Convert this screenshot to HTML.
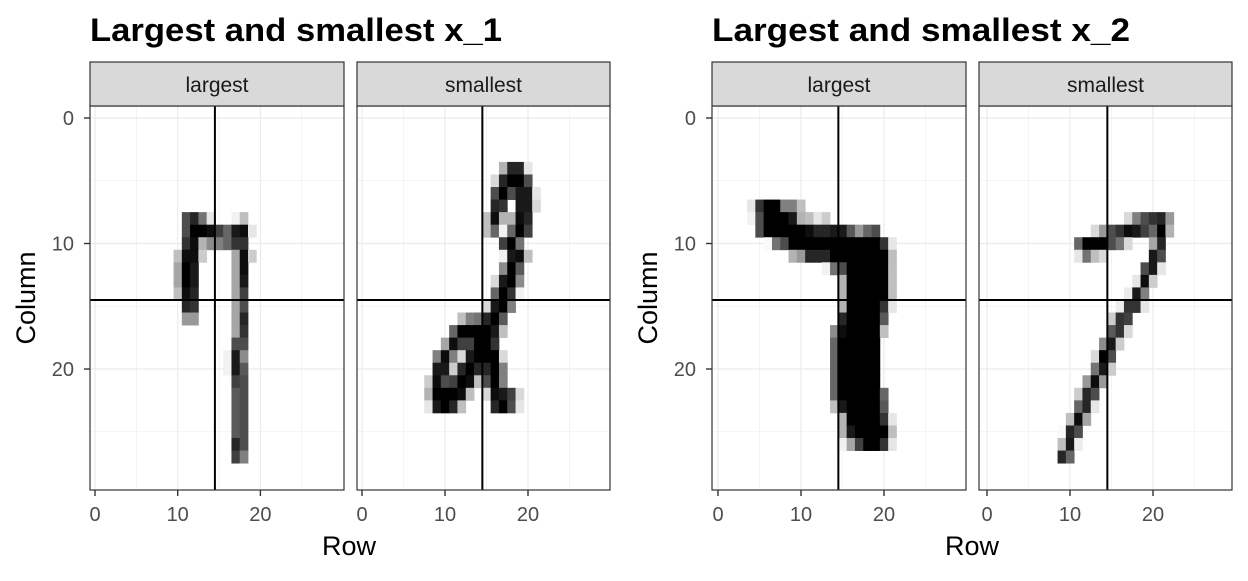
<!DOCTYPE html>
<html><head><meta charset="utf-8">
<style>
body{margin:0;background:#fff;}
svg text{font-family:"Liberation Sans",Arial,sans-serif;}
</style></head>
<body>
<svg id="chart" width="1248" height="576" viewBox="0 0 1248 576" xmlns="http://www.w3.org/2000/svg">
<text x="90" y="41" font-size="32" font-weight="bold" fill="#000" textLength="412" lengthAdjust="spacingAndGlyphs">Largest and smallest x_1</text>
<text x="712" y="41" font-size="32" font-weight="bold" fill="#000" textLength="418" lengthAdjust="spacingAndGlyphs">Largest and smallest x_2</text>
<text x="349" y="555" font-size="27" text-anchor="middle" fill="#000">Row</text>
<text x="972" y="555" font-size="27" text-anchor="middle" fill="#000">Row</text>
<text transform="translate(35,298) rotate(-90)" font-size="27" text-anchor="middle" fill="#000">Column</text>
<text transform="translate(657,298) rotate(-90)" font-size="27" text-anchor="middle" fill="#000">Column</text>
</svg>
<script>
const axisTicks = [0, 10, 20];
const tickLabels = ["0", "10", "20"];
const minorTicks = [5, 15, 25];
const crossLine = 14.5;
const stripLabels = ["largest", "smallest", "largest", "smallest"];
// [row(y), col(x), intensity]
const largestX1 = [
[8,11,.7],[8,12,.85],[8,13,.55],[8,14,.1],[8,17,.05],[8,18,.25],
[9,11,.7],[9,12,1],[9,13,1],[9,14,.95],[9,15,.75],[9,16,.6],[9,17,.9],[9,18,.95],[9,19,.1],
[10,11,.8],[10,12,.95],[10,13,.3],[10,14,.45],[10,15,.5],[10,16,.6],[10,17,.8],[10,18,.8],
[11,10,.25],[11,11,.95],[11,12,.95],[11,13,.2],[11,17,.35],[11,18,.95],[11,19,.2],
[12,10,.35],[12,11,1],[12,12,.9],[12,17,.35],[12,18,.95],
[13,10,.35],[13,11,1],[13,12,.9],[13,17,.35],[13,18,.9],
[14,10,.25],[14,11,.95],[14,12,.85],[14,17,.35],[14,18,.75],
[15,11,.85],[15,12,.8],[15,17,.35],[15,18,.7],
[16,11,.4],[16,12,.4],[16,17,.35],[16,18,.85],
[17,17,.35],[17,18,.8],
[18,17,.7],[18,18,.7],
[19,16,.05],[19,17,.9],[19,18,.45],
[20,16,.05],[20,17,.9],[20,18,.65],
[21,17,.75],[21,18,.7],
[22,17,.65],[22,18,.7],[23,17,.65],[23,18,.7],[24,17,.65],[24,18,.7],[25,17,.65],[25,18,.7],
[26,17,.85],[26,18,.7],
[27,17,.75],[27,18,.5]
];
const smallestX1 = [
[4,17,.3],[4,18,.85],[4,19,.85],[4,20,.1],
[5,16,.15],[5,17,.85],[5,18,1],[5,19,1],[5,20,.7],
[6,16,.7],[6,17,1],[6,18,.7],[6,19,.9],[6,20,.9],[6,21,.1],
[7,16,.85],[7,17,.8],[7,19,.9],[7,20,.9],[7,21,.15],
[8,15,.25],[8,16,.95],[8,17,.3],[8,18,.3],[8,19,.95],[8,20,.85],
[9,15,.25],[9,16,.6],[9,17,.05],[9,18,.6],[9,19,1],[9,20,.75],
[10,17,.75],[10,18,1],[10,19,.55],
[11,17,.05],[11,18,.9],[11,19,.95],[11,20,.25],
[12,17,.45],[12,18,1],[12,19,.65],
[13,16,.15],[13,17,.9],[13,18,1],[13,19,.45],
[14,16,.6],[14,17,1],[14,18,.8],[14,19,.05],
[15,15,.15],[15,16,.9],[15,17,1],[15,18,.5],
[16,12,.25],[16,13,.5],[16,14,.55],[16,15,.85],[16,16,1],[16,17,.65],
[17,11,.6],[17,12,1],[17,13,1],[17,14,1],[17,15,1],[17,16,.9],[17,17,.25],
[18,10,.35],[18,11,.95],[18,12,.75],[18,13,.75],[18,14,1],[18,15,1],[18,16,.8],
[19,9,.5],[19,10,.95],[19,11,.5],[19,12,.15],[19,13,.9],[19,14,1],[19,15,1],[19,16,1],[19,17,.15],
[20,9,.9],[20,10,.9],[20,11,.2],[20,12,.85],[20,13,1],[20,14,.85],[20,15,.85],[20,16,1],[20,17,.5],
[21,8,.2],[21,9,.95],[21,10,.7],[21,11,.75],[21,12,1],[21,13,.95],[21,14,.25],[21,15,.7],[21,16,1],[21,17,.5],
[22,8,.3],[22,9,1],[22,10,1],[22,11,1],[22,12,.95],[22,13,.25],[22,15,.15],[22,16,.95],[22,17,.9],[22,18,.75],[22,19,.15],
[23,8,.1],[23,9,.9],[23,10,1],[23,11,.85],[23,12,.25],[23,16,.85],[23,17,1],[23,18,.7],[23,19,.1]
];
const largestX2 = [
[7,4,.1],[7,5,.8],[7,6,1],[7,7,1],[7,8,.5],[7,9,.5],[7,10,.25],
[8,4,.05],[8,5,.7],[8,6,1],[8,7,1],[8,8,1],[8,9,.9],[8,10,.3],[8,11,.25],[8,12,.1],[8,13,.2],
[9,5,.7],[9,6,1],[9,7,1],[9,8,1],[9,9,1],[9,10,1],[9,11,.95],[9,12,.85],[9,13,.85],[9,14,.9],[9,15,.9],[9,16,.65],[9,17,.4],[9,18,.6],[9,19,.7],
[10,6,.02],[10,7,.55],[10,8,.7],[10,9,1],[10,10,1],[10,11,1],[10,12,1],[10,13,1],[10,14,1],[10,15,1],[10,16,1],[10,17,1],[10,18,1],[10,19,1],[10,20,.8],[10,21,.1],
[11,9,.3],[11,10,.4],[11,11,.85],[11,12,.85],[11,13,.85],[11,14,1],[11,15,1],[11,16,1],[11,17,1],[11,18,1],[11,19,1],[11,20,1],[11,21,.25],
[12,13,.05],[12,14,.55],[12,15,.7],[12,16,1],[12,17,1],[12,18,1],[12,19,1],[12,20,1],[12,21,.25],
[13,15,.3],[13,16,1],[13,17,1],[13,18,1],[13,19,1],[13,20,1],[13,21,.25],
[14,15,.3],[14,16,1],[14,17,1],[14,18,1],[14,19,1],[14,20,1],[14,21,.25],
[15,15,.3],[15,16,1],[15,17,1],[15,18,1],[15,19,1],[15,20,.8],[15,21,.1],
[16,15,.85],[16,16,1],[16,17,1],[16,18,1],[16,19,1],[16,20,.65],
[17,14,.45],[17,15,.95],[17,16,1],[17,17,1],[17,18,1],[17,19,1],[17,20,.25],
[18,14,.6],[18,15,1],[18,16,1],[18,17,1],[18,18,1],[18,19,1],
[19,14,.6],[19,15,1],[19,16,1],[19,17,1],[19,18,1],[19,19,1],
[20,14,.6],[20,15,1],[20,16,1],[20,17,1],[20,18,1],[20,19,1],
[21,14,.6],[21,15,1],[21,16,1],[21,17,1],[21,18,1],[21,19,1],
[22,14,.6],[22,15,1],[22,16,1],[22,17,1],[22,18,1],[22,19,1],[22,20,.6],
[23,14,.25],[23,15,.9],[23,16,1],[23,17,1],[23,18,1],[23,19,1],[23,20,.65],
[24,15,.3],[24,16,1],[24,17,1],[24,18,1],[24,19,1],[24,20,.8],[24,21,.1],
[25,15,.3],[25,16,.9],[25,17,1],[25,18,1],[25,19,1],[25,20,1],[25,21,.25],
[26,15,.05],[26,16,.35],[26,17,.75],[26,18,1],[26,19,1],[26,20,.8],[26,21,.1]
];
const smallestX2 = [
[8,17,.15],[8,18,.5],[8,19,.7],[8,20,.8],[8,21,.85],[8,22,.4],
[9,13,.15],[9,14,.4],[9,15,.7],[9,16,.8],[9,17,.95],[9,18,.9],[9,19,.75],[9,20,.6],[9,21,1],[9,22,.3],
[10,11,.6],[10,12,1],[10,13,1],[10,14,1],[10,15,.7],[10,16,.55],[10,17,.15],[10,20,.35],[10,21,.85],
[11,11,.1],[11,12,.55],[11,13,.25],[11,14,.15],[11,20,.9],[11,21,.7],
[12,19,.7],[12,20,.9],[12,21,.1],
[13,18,.1],[13,19,.95],[13,20,.2],
[14,17,.08],[14,18,.9],[14,19,.5],
[15,16,.07],[15,17,.8],[15,18,.8],[15,19,.1],
[16,15,.2],[16,16,.8],[16,17,.75],
[17,15,.65],[17,16,.8],[17,17,.15],
[18,14,.45],[18,15,.9],[18,16,.2],
[19,13,.15],[19,14,1],[19,15,.7],
[20,13,.55],[20,14,.9],[20,15,.2],
[21,12,.4],[21,13,.95],[21,14,.4],
[22,11,.2],[22,12,.85],[22,13,.7],
[23,11,.6],[23,12,.85],[23,13,.1],
[24,10,.25],[24,11,.95],[24,12,.35],
[25,9,.02],[25,10,.85],[25,11,.7],
[26,9,.25],[26,10,.9],[26,11,.07],
[27,9,.85],[27,10,.6]
];
const panelData = [largestX1, smallestX1, largestX2, smallestX2];
const panelNames = ["largest-x1", "smallest-x1", "largest-x2", "smallest-x2"];

const NS = "http://www.w3.org/2000/svg";
const svg = document.getElementById("chart");
const panels = [
  {left:90, right:344, x0:95, ppu:8.27},
  {left:357, right:610, x0:362, ppu:8.3},
  {left:712, right:966, x0:718, ppu:8.3},
  {left:979, right:1232, x0:987, ppu:8.3}
];
const TOP = 106, BOTTOM = 490, Y0 = 118, YPU = 12.55;
function mk(tag, attrs, parent){
  const e = document.createElementNS(NS, tag);
  for (const k in attrs) e.setAttribute(k, attrs[k]);
  (parent || svg).appendChild(e);
  return e;
}
panels.forEach((p, i) => {
  const xs = v => p.x0 + p.ppu * v;
  const ys = v => Y0 + YPU * v;
  const g = mk("g", {});
  
  
  const bg = mk("rect", {x:p.left, y:TOP, width:p.right-p.left, height:BOTTOM-TOP, fill:"#fff"}, g);
  
  
  minorTicks.concat(axisTicks).forEach((t, j) => {
    const w = j < minorTicks.length ? 0.6 : 1.2;
    const vl = mk("line", {x1:xs(t), x2:xs(t), y1:TOP, y2:BOTTOM, stroke:"#ebebeb", "stroke-width":w}, g);
    
    
    const hl = mk("line", {x1:p.left, x2:p.right, y1:ys(t), y2:ys(t), stroke:"#ebebeb", "stroke-width":w}, g);
    
    
  });
  panelData[i].forEach(d => {
    const gv = Math.round(255 * (1 - d[2]));
    const r = mk("rect", {x:xs(d[1]-0.5), y:ys(d[0]-0.5), width:p.ppu+0.4, height:YPU+0.4, fill:`rgb(${gv},${gv},${gv})`}, g);
    
    
  });
  const cv = mk("line", {x1:xs(crossLine), x2:xs(crossLine), y1:TOP, y2:BOTTOM, stroke:"#000", "stroke-width":2}, g);
  
  
  const ch = mk("line", {x1:p.left, x2:p.right, y1:ys(crossLine), y2:ys(crossLine), stroke:"#000", "stroke-width":2}, g);
  
  
  const border = mk("rect", {x:p.left, y:TOP, width:p.right-p.left, height:BOTTOM-TOP, fill:"none", stroke:"#333", "stroke-width":1.2}, g);
  
  
  const strip = mk("rect", {x:p.left, y:62, width:p.right-p.left, height:TOP-62, fill:"#d9d9d9", stroke:"#333", "stroke-width":1.2}, g);
  
  
  const st = mk("text", {x:(p.left+p.right)/2, y:92, "font-size":21, "text-anchor":"middle", fill:"#1a1a1a"}, g);
  st.textContent = stripLabels[i];
  
  
  axisTicks.forEach((t, j) => {
    const tk = mk("line", {x1:xs(t), x2:xs(t), y1:BOTTOM, y2:BOTTOM+6, stroke:"#333", "stroke-width":1.4}, g);
    
    
    const tl = mk("text", {x:xs(t), y:BOTTOM+31, "font-size":20, "text-anchor":"middle", fill:"#4d4d4d"}, g);
    tl.textContent = tickLabels[j];
    
    
    if (i === 0 || i === 2) {
      const yt = mk("line", {x1:p.left-6, x2:p.left, y1:ys(t), y2:ys(t), stroke:"#333", "stroke-width":1.4}, g);
      
      
      const yl = mk("text", {x:p.left-16, y:ys(t)+7, "font-size":20, "text-anchor":"end", fill:"#4d4d4d"}, g);
      yl.textContent = tickLabels[j];
      
      
    }
  });
});
</script>
</body></html>
